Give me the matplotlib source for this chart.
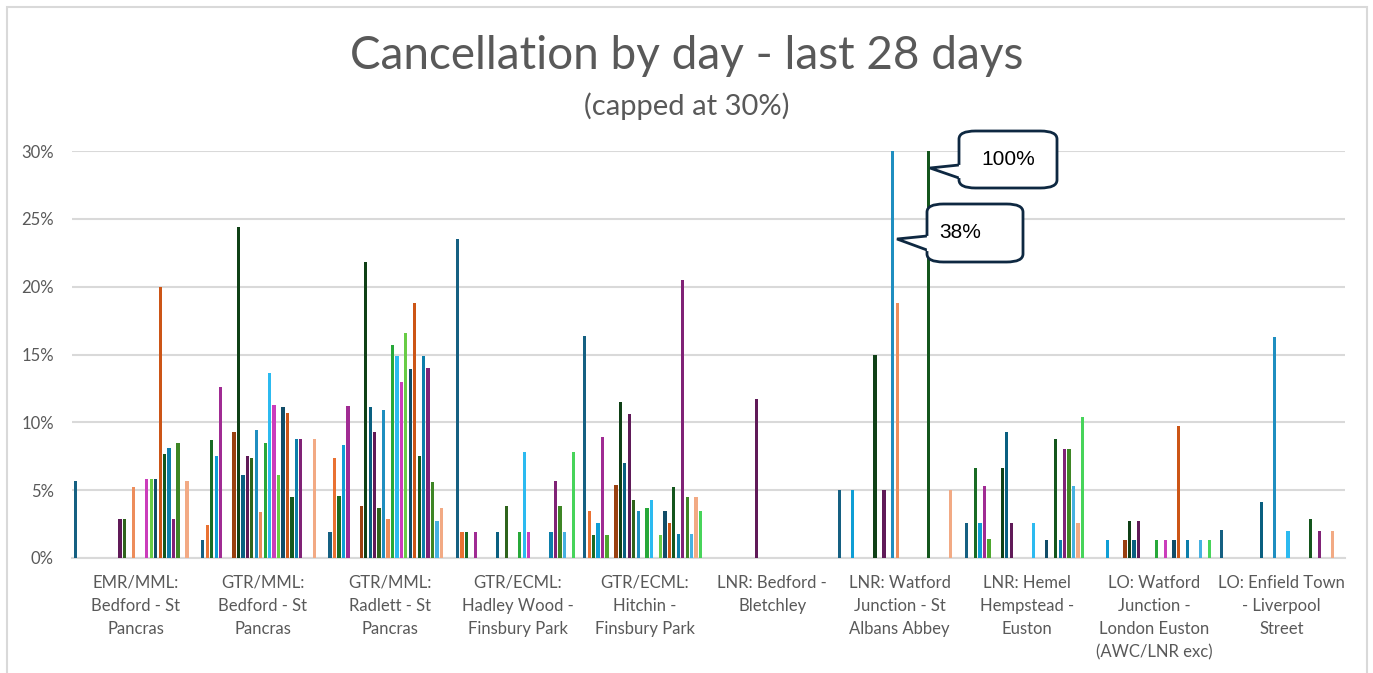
import colorsys
import numpy as np
import matplotlib
matplotlib.use("Agg")
import matplotlib.pyplot as plt
from matplotlib.patches import FancyBboxPatch, Polygon, Rectangle

plt.rcParams['font.family'] = ['Lato', 'DejaVu Sans']

categories = [
    "EMR/MML:\nBedford - St\nPancras",
    "GTR/MML:\nBedford - St\nPancras",
    "GTR/MML:\nRadlett - St\nPancras",
    "GTR/ECML:\nHadley Wood -\nFinsbury Park",
    "GTR/ECML:\nHitchin -\nFinsbury Park",
    "LNR: Bedford -\nBletchley",
    "LNR: Watford\nJunction - St\nAlbans Abbey",
    "LNR: Hemel\nHempstead -\nEuston",
    "LO: Watford\nJunction -\nLondon Euston\n(AWC/LNR exc)",
    "LO: Enfield Town\n- Liverpool\nStreet",
]
ndays = 28
cap = 30.0

# cancellation % per route, keyed by day index (0..27); missing days = 0
route_emr_bedford = {0: 5.7, 10: 2.9, 11: 2.9, 13: 5.2, 16: 5.8, 17: 5.8, 18: 5.8,
                     19: 20.0, 20: 7.7, 21: 8.1, 22: 2.9, 23: 8.5, 25: 5.7}
route_gtr_bedford = {0: 1.3, 1: 2.4, 2: 8.7, 3: 7.5, 4: 12.6, 7: 9.3, 8: 24.4,
                     9: 6.1, 10: 7.5, 11: 7.4, 12: 9.4, 13: 3.4, 14: 8.5, 15: 13.6,
                     16: 11.3, 17: 6.1, 18: 11.1, 19: 10.7, 20: 4.5, 21: 8.8,
                     22: 8.8, 25: 8.8}
route_gtr_radlett = {0: 1.9, 1: 7.4, 2: 4.6, 3: 8.3, 4: 11.2, 7: 3.8, 8: 21.8,
                     9: 11.1, 10: 9.3, 11: 3.7, 12: 10.9, 13: 2.9, 14: 15.7,
                     15: 14.9, 16: 13.0, 17: 16.6, 18: 13.9, 19: 18.8, 20: 7.5,
                     21: 14.9, 22: 14.0, 23: 5.6, 24: 2.7, 25: 3.7}
route_gtr_hadley = {0: 23.5, 1: 1.9, 2: 1.9, 4: 1.9, 9: 1.9, 11: 3.8, 14: 1.9,
                    15: 7.8, 16: 1.9, 21: 1.9, 22: 5.7, 23: 3.8, 24: 1.9, 26: 7.8}
route_gtr_hitchin = {0: 16.4, 1: 3.5, 2: 1.7, 3: 2.6, 4: 8.9, 5: 1.7, 7: 5.4,
                     8: 11.5, 9: 7.0, 10: 10.6, 11: 4.3, 12: 3.5, 14: 3.7, 15: 4.3,
                     17: 1.7, 18: 3.5, 19: 2.6, 20: 5.2, 21: 1.8, 22: 20.5,
                     23: 4.5, 24: 1.8, 25: 4.5, 26: 3.5}
route_lnr_bletchley = {10: 11.7}
route_lnr_stalbans = {0: 5.0, 3: 5.0, 8: 15.0, 10: 5.0, 12: 38.0, 13: 18.8,
                      20: 100.0, 25: 5.0}
route_lnr_euston = {0: 2.6, 2: 6.6, 3: 2.6, 4: 5.3, 5: 1.4, 8: 6.6, 9: 9.3,
                    10: 2.6, 15: 2.6, 18: 1.3, 20: 8.8, 21: 1.3, 22: 8.0, 23: 8.0,
                    24: 5.3, 25: 2.6, 26: 10.4}
route_lo_watford = {3: 1.3, 7: 1.3, 8: 2.7, 9: 1.3, 10: 2.7, 14: 1.3, 16: 1.3,
                    18: 1.3, 19: 9.7, 21: 1.3, 24: 1.3, 26: 1.3}
route_lo_enfield = {0: 2.1, 9: 4.1, 12: 16.3, 15: 2.0, 20: 2.9, 22: 2.0, 25: 2.0}

routes = [route_emr_bedford, route_gtr_bedford, route_gtr_radlett,
          route_gtr_hadley, route_gtr_hitchin, route_lnr_bletchley,
          route_lnr_stalbans, route_lnr_euston, route_lo_watford,
          route_lo_enfield]

# Office theme accents and the shade/tint cycle Excel uses for series 7+
accents = ["#156082", "#E97132", "#196B24", "#0F9ED5", "#A02B93", "#4EA72E"]
mods = [(1.0, 0.0), (0.6, 0.0), (0.8, 0.2), (0.8, 0.0), (0.6, 0.4)]


def series_colour(k):
    base = matplotlib.colors.to_rgb(accents[k % 6])
    mod, off = mods[(k // 6) % len(mods)]
    h, l, s = colorsys.rgb_to_hls(*base)
    l = min(1.0, l * mod + off)
    return colorsys.hls_to_rgb(h, l, s)


fig = plt.figure(figsize=(13.73, 6.73), dpi=100)
W, H = 1373.0, 673.0
fig.patches.append(Rectangle((7 / W, -0.01), 1360 / W, (H - 7) / H + 0.01,
                             transform=fig.transFigure, fill=False,
                             ec="#d9d9d9", lw=1.5))

ax = fig.add_axes([72 / W, (H - 558) / H, 1273 / W, 407 / H])
ax.set_xlim(-0.5, len(categories) - 0.5)
ax.set_ylim(0, 30)

step = 0.035
width = 0.026
x = np.arange(len(categories))
for k in range(ndays):
    vals = np.array([r.get(k, 0.0) for r in routes])
    ax.bar(x + (k - (ndays - 1) / 2) * step, np.minimum(vals, cap), width,
           color=series_colour(k), zorder=3, linewidth=0)

ax.set_yticks(range(0, 31, 5))
ax.set_yticklabels(["{}%".format(v) for v in range(0, 31, 5)])
ax.yaxis.grid(True, color="#d9d9d9", lw=1.5, zorder=0)
ax.set_xticks(x)
ax.set_xticklabels(categories, linespacing=1.55, va="top")
for sp in ["top", "right", "left"]:
    ax.spines[sp].set_visible(False)
ax.spines["bottom"].set_color("#d9d9d9")
ax.spines["bottom"].set_linewidth(1.5)
ax.tick_params(length=0, colors="#595959", labelsize=12)
ax.tick_params(axis="x", pad=12)
ax.tick_params(axis="y", pad=13)

fig.text(0.5, 1 - 56 / H, "Cancellation by day - last 28 days", ha="center",
         va="center", fontsize=33, color="#595959")
fig.text(0.5, 1 - 106 / H, "(capped at 30%)", ha="center", va="center",
         fontsize=21, color="#595959")

# callouts for the two capped bars (pixel positions -> figure fraction)
navy = "#0e2841"


def callout(box, base, tip, label, tx):
    x0, y0, x1, y1 = box
    fig.patches.append(FancyBboxPatch(
        (x0 / W, 1 - y1 / H), (x1 - x0) / W, (y1 - y0) / H,
        boxstyle="round,pad=0,rounding_size=0.012", transform=fig.transFigure,
        fc="white", ec=navy, lw=2, zorder=10))
    pts = [(x0 / W, 1 - base[0] / H), (tip[0] / W, 1 - tip[1] / H),
           (x0 / W, 1 - base[1] / H)]
    fig.patches.append(Polygon(pts, closed=False, transform=fig.transFigure,
                               fc="white", ec=navy, lw=2, zorder=11))
    fig.lines.append(matplotlib.lines.Line2D(
        [x0 / W + 1.5 / W] * 2, [1 - (base[0] + 1.5) / H, 1 - (base[1] - 1.5) / H],
        transform=fig.transFigure, color="white", lw=3, zorder=12))
    fig.text(tx / W, 1 - (y0 + y1) / 2 / H, label, ha="center", va="center",
             fontsize=15, color="black", zorder=13,
             family=["Liberation Sans", "DejaVu Sans"])


callout((959, 131, 1057, 188), (165, 178), (930, 168), "100%", 1008)
callout((927, 204, 1023, 262), (236, 250), (897, 239), "38%", 960)

fig.savefig("out.png", dpi=100)
